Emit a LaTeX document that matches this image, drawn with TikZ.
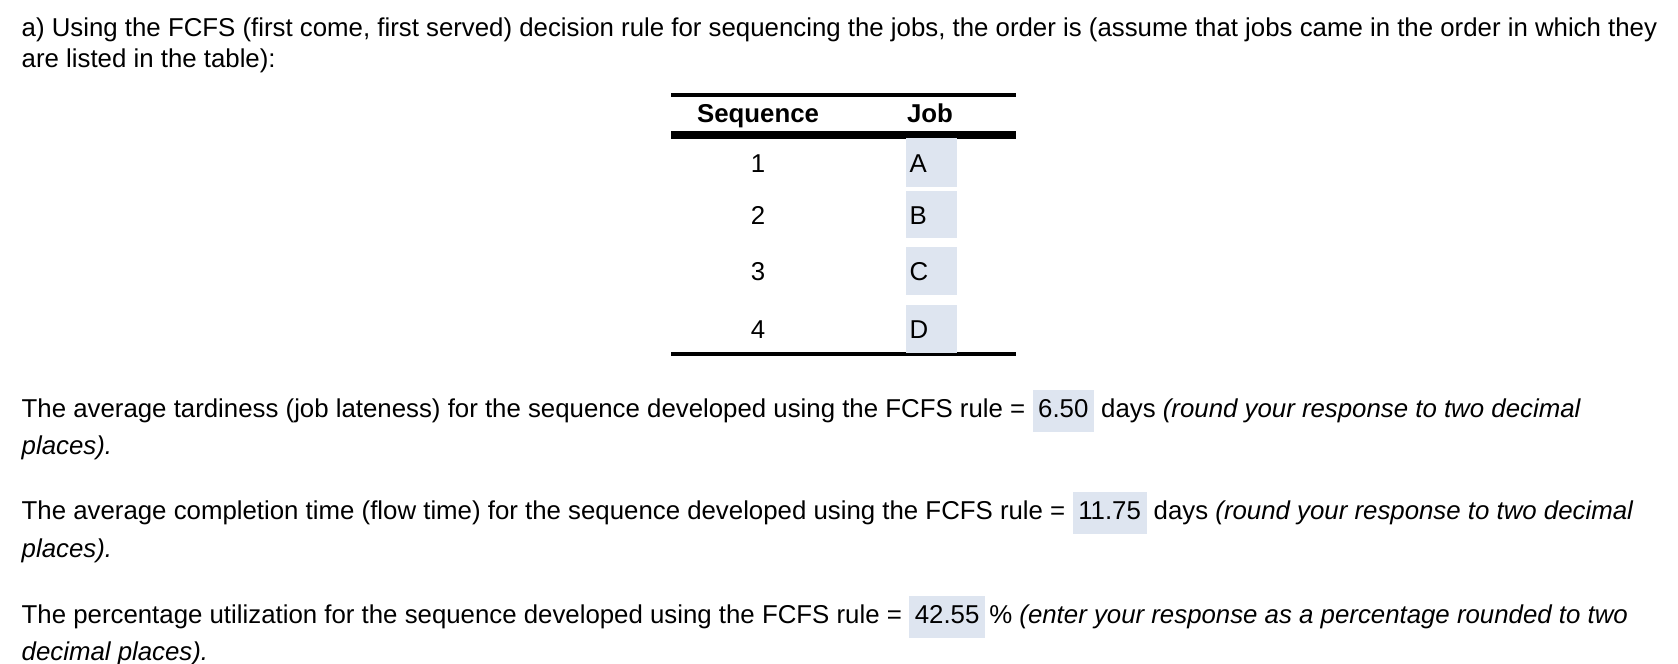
\documentclass[tikz,border=0pt]{standalone}
\usepackage{fontspec}
\setmainfont{Liberation Sans}
\definecolor{ansbg}{HTML}{DEE5F0}
\newcommand{\ans}[1]{\setlength{\fboxsep}{1.6pt}\colorbox{ansbg}{\strut #1}}
\begin{document}
\begin{tikzpicture}[x=0.01cm,y=-0.01cm,
  txt/.style={anchor=base west,inner sep=0pt,font=\fontsize{7.34pt}{8.5pt}\selectfont},
  cell/.style={inner sep=0pt,font=\fontsize{7.34pt}{8.5pt}\selectfont}]
\useasboundingbox (0,0) rectangle (1678,664);
\node[txt] (l1) at (21,37) {a) Using the FCFS (first come, first served) decision rule for sequencing the jobs, the order is (assume that jobs came in the order in which they};
\node[txt] (l2) at (21,68) {are listed in the table):};
% table
\draw[line width=1.1pt] (671,95) -- (1016,95);
\draw[line width=2.2pt] (671,135) -- (1016,135);
\draw[line width=1.1pt] (671,354) -- (1016,354);
\node[cell,anchor=base,font=\fontsize{7.34pt}{8.5pt}\selectfont\bfseries] (hs) at (758,123) {Sequence};
\node[cell,anchor=base,font=\fontsize{7.34pt}{8.5pt}\selectfont\bfseries] (hj) at (930,123) {Job};
\foreach \n/\j/\t/\b in {1/A/138/187,2/B/191/238,3/C/247/295,4/D/305/353}{
  \fill[ansbg] (906,\t) rectangle (957,\b);
  \node[cell] (s\n) at (758,{(\t+\b)/2+1}) {\n};
  \node[cell,anchor=west] (j\n) at (909,{(\t+\b)/2+1}) {\j};
}
\node[txt] (p1) at (21,417) {The average tardiness (job lateness) for the sequence developed using the FCFS rule = \ans{6.50} days \textit{(round your response to two decimal}};
\node[txt] (p1b) at (21,454) {\textit{places).}};
\node[txt] (p2) at (21,519) {The average completion time (flow time) for the sequence developed using the FCFS rule = \ans{11.75} days \textit{(round your response to two decimal}};
\node[txt] (p2b) at (21,557) {\textit{places).}};
\node[txt] (p3) at (21,623) {The percentage utilization for the sequence developed using the FCFS rule = \ans{42.55}\,\% \textit{(enter your response as a percentage rounded to two}};
\node[txt] (p3b) at (21,660) {\textit{decimal places).}};
\end{tikzpicture}
\end{document}
